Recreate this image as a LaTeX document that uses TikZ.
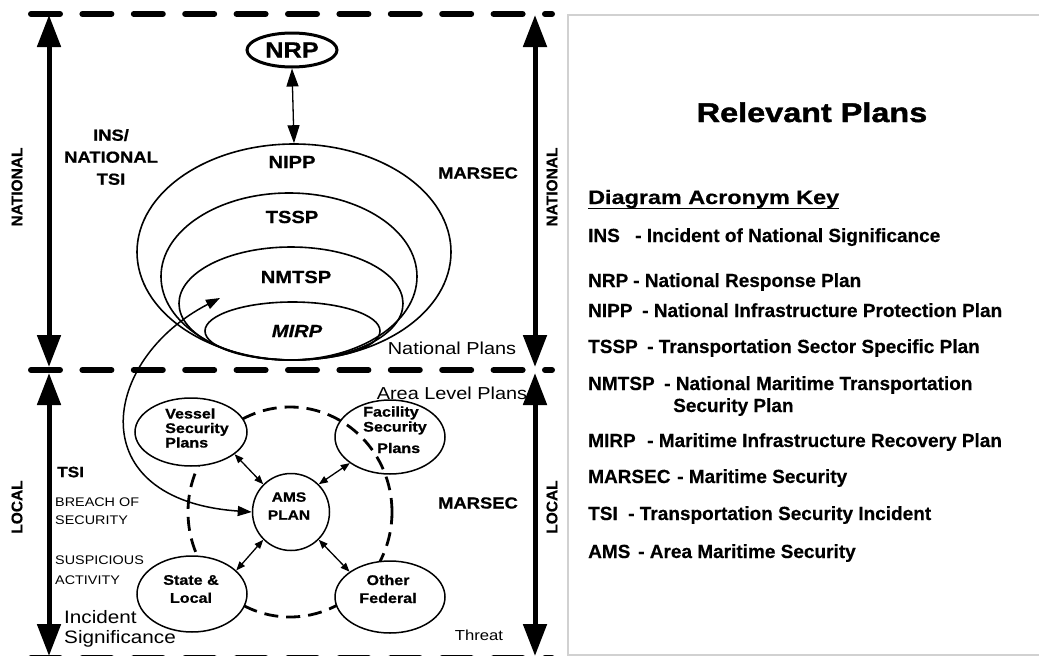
\documentclass[tikz,border=0pt]{standalone}
\usepackage{fontspec}
\setmainfont{Liberation Sans}[BoldFeatures={FakeBold=0.4}]
\newfontfamily\dg{Liberation Sans}[FakeStretch=1.15, BoldFeatures={FakeBold=0.8}, BoldItalicFeatures={FakeBold=0.8}]
\newfontfamily\wk{Liberation Sans}[FakeStretch=1.2, BoldFeatures={FakeBold=1.6}]
\newfontfamily\wh{Liberation Sans}[FakeStretch=1.2, BoldFeatures={FakeBold=0.5}]
\usetikzlibrary{arrows.meta,shapes.geometric}
\newcommand\myfs[2]{\fontsize{#1}{#2}\selectfont}
\begin{document}
\begin{tikzpicture}[x=1pt,y=-1pt,
  bigdash/.style={line width=6pt, line cap=round, dash pattern=on 29pt off 22.4pt},
  bigarrow/.style={line width=5pt, {Triangle[length=32pt,width=23pt]}-{Triangle[length=32pt,width=23pt]}},
  plan/.style={ellipse, draw, line width=1.6pt, inner sep=0pt},
  box/.style={ellipse, draw, line width=1.5pt, inner sep=0pt},
  lbl/.style={inner sep=0pt},
  smallarrow/.style={line width=1.3pt, {Triangle[length=9pt,width=7pt]}-{Triangle[length=9pt,width=7pt]}},
  keyA/.style={anchor=base west, inner sep=0pt, font=\bfseries\myfs{19}{22}},
  side/.style={rotate=90, inner sep=0pt, font=\bfseries\myfs{15.5}{18}}
]
\useasboundingbox (0,0) rectangle (1039,656);
\fill[white] (0,0) rectangle (1039,656);

% right panel frame
\draw[black!18, line width=1.5pt] (1045,15) -- (568,15) -- (568,655) -- (1045,655);

% horizontal dashed level lines
\coordinate (t1) at (31,14);  \coordinate (t2) at (552,14);
\coordinate (m1) at (31,370); \coordinate (m2) at (552,370);
\coordinate (b1) at (31,658); \coordinate (b2) at (552,658);
\draw[bigdash] (t1) -- (t2);
\draw[bigdash] (m1) -- (m2);
\draw[bigdash] (b1) -- (b2);

% vertical level arrows
\coordinate (lu1) at (49,15);  \coordinate (lu2) at (49,367);
\coordinate (ll1) at (49,373); \coordinate (ll2) at (49,656);
\coordinate (ru1) at (535,15); \coordinate (ru2) at (535,367);
\coordinate (rl1) at (535,373); \coordinate (rl2) at (535,656);
\draw[bigarrow] (lu1) -- (lu2);
\draw[bigarrow] (ll1) -- (ll2);
\draw[bigarrow] (ru1) -- (ru2);
\draw[bigarrow] (rl1) -- (rl2);

\node[side] (natL) at (17,187) {NATIONAL};
\node[side] (natR) at (552,187) {NATIONAL};
\node[side] (locL) at (17,507) {LOCAL};
\node[side] (locR) at (552,507) {LOCAL};

% national plans
\node[ellipse, draw, line width=3pt, minimum width=90pt, minimum height=34pt, inner sep=0pt,
      font=\dg\bfseries\myfs{22}{24}] (nrp) at (292,50) {NRP};
\node[plan, minimum width=314pt, minimum height=216pt] (nipp) at (294,252) {};
\node[plan, minimum width=256pt, minimum height=167pt] (tssp) at (289,276.5) {};
\node[plan, minimum width=224pt, minimum height=113pt] (nmtsp) at (291,303.5) {};
\node[plan, minimum width=175pt, minimum height=58pt] (mirp) at (292.5,331) {};
\node[lbl, font=\dg\bfseries\myfs{17.5}{20}] (tnipp) at (292,162) {NIPP};
\node[lbl, font=\dg\bfseries\myfs{17.5}{20}] (ttssp) at (292,217) {TSSP};
\node[lbl, font=\dg\bfseries\myfs{17.5}{20}] (tnmtsp) at (296,277) {NMTSP};
\node[lbl, font=\dg\bfseries\itshape\myfs{17.5}{20}] (tmirp) at (297,331) {MIRP};
\draw[line width=1.3pt, {Triangle[length=18pt,width=12pt]}-{Triangle[length=18pt,width=12pt]}] (nrp.south) -- (nipp.north);

\node[lbl, align=center, font=\dg\bfseries\myfs{16}{22}] (tins) at (111,157) {INS/\\NATIONAL\\TSI};
\node[lbl, font=\dg\bfseries\myfs{16}{18}] (marsec1) at (478,173) {MARSEC};
\node[lbl, font=\dg\myfs{17.3}{20}] (natplans) at (452,348) {National Plans};
\node[lbl, font=\dg\myfs{17.3}{20}] (areaplans) at (452,393) {Area Level Plans};

% area level plans
\node[ellipse, draw, line width=2.8pt, dash pattern=on 14pt off 8pt, minimum width=204pt, minimum height=210pt, inner sep=0pt] (ring) at (290,512) {};
\node[box, fill=white, minimum width=112pt, minimum height=68pt] (vessel) at (191,432) {};
\node[box, minimum width=110pt, minimum height=74pt] (facility) at (390,437) {};
\node[box, fill=white, minimum width=77pt, minimum height=77pt] (ams) at (291,512) {};
\node[box, fill=white, minimum width=110pt, minimum height=76pt] (state) at (192,594) {};
\node[box, fill=white, minimum width=110pt, minimum height=72pt] (other) at (390,597) {};

\node[lbl, anchor=west, align=left, font=\dg\bfseries\myfs{14}{14.5}] (tvessel) at (165,428) {Vessel\\Security\\Plans};
\node[lbl, anchor=west, font=\dg\bfseries\myfs{14}{14.5}] (tfac1) at (363,413) {Facility};
\node[lbl, anchor=west, font=\dg\bfseries\myfs{14}{14.5}] (tfac2) at (363,428) {Security};
\node[lbl, anchor=west, font=\dg\bfseries\myfs{14}{14.5}] (tfac3) at (377,448) {Plans};
\node[lbl, align=center, font=\dg\bfseries\myfs{13.5}{18}] (tams) at (289,506) {AMS\\PLAN};
\node[lbl, align=center, font=\dg\bfseries\myfs{14}{18}] (tstate) at (191,589) {State \&\\Local};
\node[lbl, align=center, font=\dg\bfseries\myfs{14}{18}] (tother) at (388,589) {Other\\Federal};

\draw[smallarrow] (ams.135) -- (vessel.-27);
\draw[smallarrow] (ams.45) -- (facility.213);
\draw[smallarrow] (ams.225) -- (state.28);
\draw[smallarrow] (ams.-45) -- (other.148);

\coordinate (cstart) at (220,298);
\draw[line width=1.5pt, {Triangle[length=14pt,width=10pt]}-{Triangle[length=14pt,width=10pt]}]
  (cstart) .. controls (100,360) and (80,500) .. (ams.west);

% local labels
\node[lbl, anchor=west, font=\dg\bfseries\myfs{15}{18}] (ttsi) at (57,472) {TSI};
\node[lbl, anchor=west, align=left, font=\dg\myfs{12.5}{18}] (tbreach) at (55,511) {BREACH OF\\SECURITY};
\node[lbl, anchor=west, align=left, font=\dg\myfs{12.5}{20}] (tsusp) at (55,570) {SUSPICIOUS\\ACTIVITY};
\node[lbl, anchor=west, align=left, font=\dg\myfs{18}{20}] (tinc) at (64,629) {Incident\\Significance};
\node[lbl, font=\dg\bfseries\myfs{16}{18}] (marsec2) at (478,503) {MARSEC};
\node[lbl, font=\dg\myfs{14.5}{17}] (threat) at (479,635) {Threat};

% right panel text
\node[lbl, anchor=base, font=\wk\bfseries\myfs{27}{30}] (title) at (812,122) {Relevant Plans};
\node[lbl, anchor=base west, font=\wh\bfseries\myfs{19.5}{22}] (keyhead) at (588,204) {Diagram Acronym Key};
\draw[line width=1.5pt] (keyhead.south west) -- (keyhead.south east);

\node[keyA] (kins) at (588,242) {INS};
\node[keyA] (kinsd) at (635,242) {- Incident of National Significance};
\node[keyA] (knrp) at (588,287) {NRP};
\node[keyA] (knrpd) at (633,287) {- National Response Plan};
\node[keyA] (knipp) at (588,317) {NIPP};
\node[keyA] (knippd) at (642,317) {- National Infrastructure Protection Plan};
\node[keyA] (ktssp) at (588,353) {TSSP};
\node[keyA] (ktsspd) at (647,353) {- Transportation Sector Specific Plan};
\node[keyA] (knmtsp) at (588,390) {NMTSP};
\node[keyA] (knmtspd) at (664,390) {- National Maritime Transportation};
\node[keyA] (knmtspd2) at (673,412) {Security Plan};
\node[keyA] (kmirp) at (588,447) {MIRP};
\node[keyA] (kmirpd) at (647,447) {- Maritime Infrastructure Recovery Plan};
\node[keyA] (kmarsec) at (588,483) {MARSEC};
\node[keyA] (kmarsecd) at (677,483) {- Maritime Security};
\node[keyA] (ktsi) at (588,520) {TSI};
\node[keyA] (ktsid) at (628,520) {- Transportation Security Incident};
\node[keyA] (kams) at (588,558) {AMS};
\node[keyA] (kamsd) at (638,558) {- Area Maritime Security};
\end{tikzpicture}
\end{document}
